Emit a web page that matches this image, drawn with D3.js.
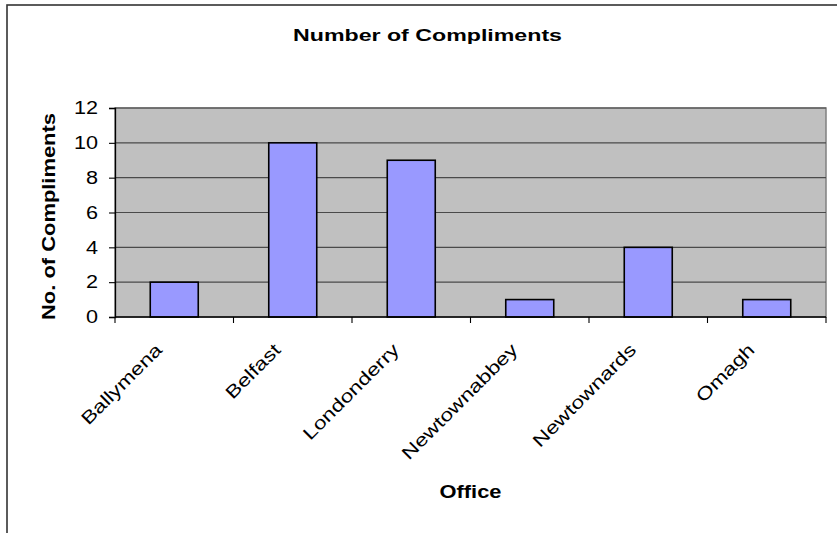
<!DOCTYPE html>
<html><head><meta charset="utf-8">
<script src="https://cdn.jsdelivr.net/npm/d3@7/dist/d3.min.js"></script>
<style>body{margin:0;background:#fff}svg{display:block}text{font-family:"Liberation Sans",Arial,sans-serif}</style>
</head><body>
<script>
const categories = ["Ballymena","Belfast","Londonderry","Newtownabbey","Newtownards","Omagh"];
const values = [2,10,9,1,4,1];
const yTicks = [0,2,4,6,8,10,12];
const title = "Number of Compliments";
const xTitle = "Office";
const yTitle = "No. of Compliments";

const W = 837, H = 533;
const m = {left:115, right:826, top:108, bottom:317};
const svg = d3.select("body").append("svg").attr("width",W).attr("height",H);

// widen glyphs like the original renderer
function widen(sel, k){
  sel.each(function(){
    const len = this.getComputedTextLength();
    d3.select(this).attr("textLength", len*k).attr("lengthAdjust","spacingAndGlyphs");
  });
}

// outer chart border
svg.append("rect").attr("x",7).attr("y",5).attr("width",W+10).attr("height",H+10)
  .attr("fill","none").attr("stroke","#333").attr("stroke-width",1.6);

const x = d3.scaleBand().domain(categories).range([m.left,m.right]).padding(0);
const y = d3.scaleLinear().domain([0,12]).range([m.bottom,m.top]);

// plot area
svg.append("rect").attr("x",m.left).attr("y",m.top).attr("width",m.right-m.left).attr("height",m.bottom-m.top)
  .attr("fill","#C0C0C0").attr("stroke","#808080").attr("stroke-width",1.5);

// gridlines
svg.append("g").selectAll("line").data(yTicks.filter(d=>d>0)).join("line")
  .attr("x1",m.left).attr("x2",m.right).attr("y1",d=>y(d)).attr("y2",d=>y(d))
  .attr("stroke","#4a4a4a").attr("stroke-width",1.2);

// bars
const bw = x.bandwidth()*0.405;
svg.append("g").selectAll("rect").data(values).join("rect")
  .attr("x",(d,i)=>x(categories[i])+x.bandwidth()/2-bw/2)
  .attr("y",d=>y(d)).attr("width",bw).attr("height",d=>y(0)-y(d))
  .attr("fill","#9999FF").attr("stroke","#000").attr("stroke-width",1.6);

// y axis
const ya = svg.append("g").attr("transform",`translate(${m.left},0)`)
  .call(d3.axisLeft(y).tickValues(yTicks).tickSize(6).tickPadding(11).tickFormat(d3.format("d")));
ya.select(".domain").attr("stroke","#000").attr("stroke-width",1.3);
ya.selectAll(".tick line").attr("stroke","#000").attr("stroke-width",1.1);
ya.selectAll(".tick text").attr("font-size",18).attr("fill","#000")
  .attr("font-family","'Liberation Sans',Arial,sans-serif");
widen(ya.selectAll(".tick text"), 1.2);

// x axis
const xa = svg.append("g").attr("transform",`translate(0,${m.bottom})`);
xa.append("line").attr("x1",m.left).attr("x2",m.right).attr("stroke","#000").attr("stroke-width",1.3);
const bounds = categories.map(c=>x(c)).concat([m.right]);
xa.selectAll("line.tk").data(bounds).join("line").attr("class","tk")
  .attr("x1",d=>d).attr("x2",d=>d).attr("y1",0).attr("y2",6).attr("stroke","#000").attr("stroke-width",1.1);
const xl = xa.selectAll("text").data(categories).join("text")
  .attr("text-anchor","end").attr("font-size",18)
  .attr("transform",d=>`translate(${x(d)+x.bandwidth()/2-11},${34}) rotate(-45)`)
  .text(d=>d);
widen(xl, 1.26);

// titles
svg.append("text").attr("x",427.5).attr("y",41).attr("text-anchor","middle")
  .attr("font-size",17).attr("font-weight","bold").attr("textLength",269).attr("lengthAdjust","spacingAndGlyphs").text(title);
svg.append("text").attr("x",(m.left+m.right)/2).attr("y",498).attr("text-anchor","middle")
  .attr("font-size",18).attr("font-weight","bold").attr("textLength",62).attr("lengthAdjust","spacingAndGlyphs").text(xTitle);
svg.append("text").attr("transform",`translate(55,216.5) rotate(-90)`).attr("text-anchor","middle")
  .attr("font-size",18).attr("font-weight","bold").attr("textLength",207).attr("lengthAdjust","spacingAndGlyphs").text(yTitle);
</script>
</body></html>
